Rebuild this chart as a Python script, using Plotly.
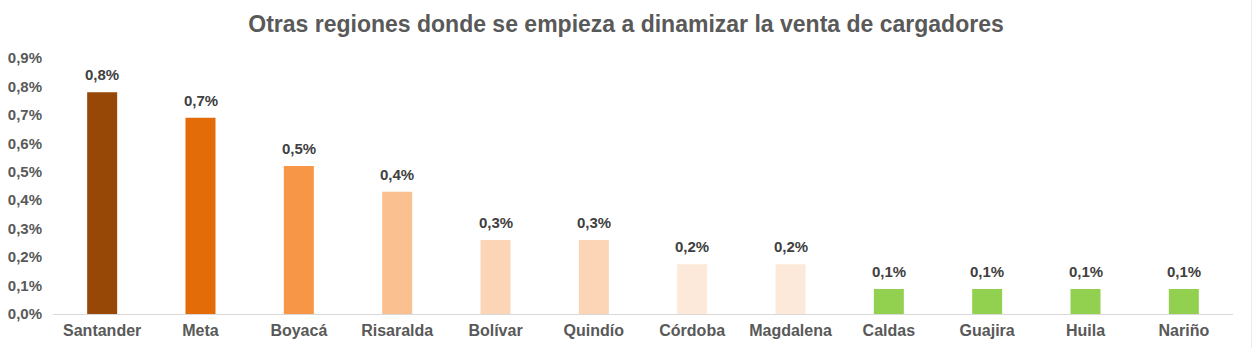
import plotly.graph_objects as go

regions = ["Santander", "Meta", "Boyacá", "Risaralda", "Bolívar", "Quindío",
           "Córdoba", "Magdalena", "Caldas", "Guajira", "Huila", "Nariño"]
shares = [0.78, 0.69, 0.52, 0.43, 0.26, 0.26, 0.175, 0.175, 0.088, 0.088, 0.088, 0.088]
colors = ["#974706", "#E36C09", "#F79646", "#FAC090", "#FBD5B5", "#FBD5B5",
          "#FDE9D9", "#FDE9D9", "#92D050", "#92D050", "#92D050", "#92D050"]
y_ticks = [0.0, 0.1, 0.2, 0.3, 0.4, 0.5, 0.6, 0.7, 0.8, 0.9]
y_tick_text = [f"{v:.1f}%".replace(".", ",") for v in y_ticks]

FONT = "Liberation Sans, Arial"

fig = go.Figure()
fig.add_trace(go.Bar(
    x=regions, y=shares, marker=dict(color=colors, line=dict(width=0)),
    hoverinfo="skip",
))

for r, s in zip(regions, shares):
    fig.add_annotation(
        x=r, y=s, xref="x", yref="y", text=f"<b>{s:.1f}%</b>".replace(".", ","),
        showarrow=False, yanchor="bottom", yshift=7,
        font=dict(family=FONT, size=15, color="#404040"),
    )

fig.update_layout(
    width=1252, height=348,
    margin=dict(l=53, r=19, t=58, b=34, autoexpand=False),
    paper_bgcolor="white", plot_bgcolor="white",
    bargap=0.695,
    showlegend=False,
    title=dict(text="<b>Otras regiones donde se empieza a dinamizar la venta de cargadores</b>",
               x=0.5, xanchor="center", y=0.93, yanchor="middle",
               font=dict(family=FONT, size=23, color="#595959")),
    xaxis=dict(showline=True, linecolor="#D9D9D9", linewidth=1, ticks="",
               automargin=False, ticklabelstandoff=2,
               tickfont=dict(family=FONT, size=16, color="#595959", weight="bold"),
               showgrid=False),
    yaxis=dict(range=[0, 0.9], tickvals=y_ticks, ticktext=y_tick_text,
               showgrid=False, zeroline=False, showline=False, ticks="",
               automargin=False, ticklabelstandoff=10,
               tickfont=dict(family=FONT, size=15, color="#595959", weight="bold")),
    shapes=[dict(type="line", xref="paper", yref="paper", x0=1.0161, x1=1.0161, y0=-0.15, y1=1.25,
                 line=dict(color="#D9D9D9", width=1))],
)

fig.write_html("out.html")
